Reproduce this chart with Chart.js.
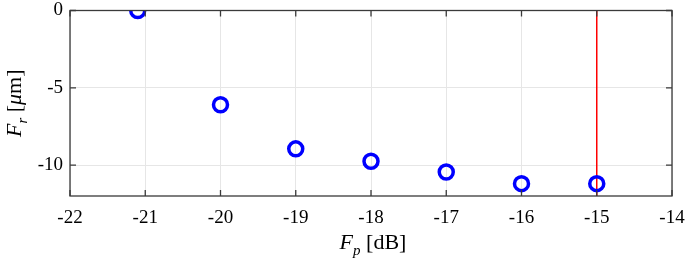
<!DOCTYPE html>
<html>
<head>
<meta charset="utf-8">
<script src="https://cdn.jsdelivr.net/npm/chart.js@4"></script>
<style>
  html, body { margin: 0; padding: 0; background: #fff; }
  #wrap { width: 685px; height: 264px; }
</style>
</head>
<body>
<div id="wrap"><canvas id="chart" width="685" height="264"></canvas></div>
<script>
// values
const fpValues = [-21.1, -20, -19, -18, -17, -16, -15];
const frValues = [0, -6.1, -8.95, -9.75, -10.45, -11.2, -11.2];
const markerX = -15;
const xTicks = [-22, -21, -20, -19, -18, -17, -16, -15, -14];
const yTicks = [-10, -5, 0];

const serif = '"Liberation Serif", "Times New Roman", serif';

// box and inward ticks, MATLAB style, plus the axis titles with subscripts
const axesBox = {
  id: 'axesBox',
  afterDraw(chart) {
    const { ctx, chartArea: a, scales: { x, y } } = chart;
    ctx.save();
    ctx.strokeStyle = '#3a3a3a';
    ctx.lineWidth = 1.3;
    ctx.strokeRect(a.left, a.top, a.right - a.left, a.bottom - a.top);
    ctx.beginPath();
    const t = 6;
    xTicks.forEach(v => {
      const px = x.getPixelForValue(v);
      ctx.moveTo(px, a.bottom); ctx.lineTo(px, a.bottom - t);
      ctx.moveTo(px, a.top); ctx.lineTo(px, a.top + t);
    });
    yTicks.forEach(v => {
      const py = y.getPixelForValue(v);
      ctx.moveTo(a.left, py); ctx.lineTo(a.left + t, py);
      ctx.moveTo(a.right, py); ctx.lineTo(a.right - t, py);
    });
    ctx.stroke();

    // x title: F_p [dB]
    ctx.fillStyle = '#000';
    ctx.textBaseline = 'alphabetic';
    const xt = [['F', 'italic 22px ' + serif, 0], ['p', 'italic 15px ' + serif, 6], [' [dB]', '22px ' + serif, 0]];
    drawParts(ctx, xt, (a.left + a.right) / 2 + 2, 249);

    // y title: F_r [μm], rotated
    ctx.save();
    ctx.translate(21, (a.top + a.bottom) / 2);
    ctx.rotate(-Math.PI / 2);
    const yt = [['F', 'italic 22px ' + serif, 0], ['r', 'italic 15px ' + serif, 6], [' [', '22px ' + serif, 0], ['\u03bc', 'italic 22px ' + serif, 0], ['m]', '22px ' + serif, 0]];
    drawParts(ctx, yt, 0, 0);
    ctx.restore();
    ctx.restore();
  }
};

function drawParts(ctx, parts, cx, baseY) {
  let total = 0;
  parts.forEach(p => { ctx.font = p[1]; total += ctx.measureText(p[0]).width; });
  let px = cx - total / 2;
  parts.forEach(p => {
    ctx.font = p[1];
    ctx.textAlign = 'left';
    ctx.fillText(p[0], px, baseY + p[2]);
    px += ctx.measureText(p[0]).width;
  });
}

const ctx = document.getElementById('chart').getContext('2d');
new Chart(ctx, {
  type: 'scatter',
  data: {
    datasets: [
      {
        label: 'Fr',
        data: fpValues.map((v, i) => ({ x: v, y: frValues[i] })),
        borderColor: '#0000ff',
        backgroundColor: 'rgba(0,0,0,0)',
        borderWidth: 3.5,
        pointRadius: 7,
        order: 0,
      },
      {
        type: 'line',
        label: 'limit',
        data: [{ x: markerX, y: -12 }, { x: markerX, y: 0 }],
        borderColor: '#ff0000',
        borderWidth: 1.5,
        pointRadius: 0,
        fill: false,
        order: 1,
      },
    ],
  },
  options: {
    responsive: false,
    animation: false,
    layout: { padding: { top: 9, right: 13, left: 0, bottom: 0 } },
    plugins: { legend: { display: false }, tooltip: { enabled: false } },
    scales: {
      x: {
        type: 'linear',
        min: -22,
        max: -14,
        afterBuildTicks: (s) => { s.ticks = xTicks.map(v => ({ value: v })); },
        afterFit: (s) => { s.height = 68; s.paddingLeft = 0; s.paddingRight = 0; },
        grid: { color: '#e6e6e6', drawTicks: false },
        border: { display: false },
        ticks: { color: '#000', font: { family: serif, size: 19 }, padding: 11, maxRotation: 0 },
      },
      y: {
        min: -12,
        max: 0,
        afterBuildTicks: (s) => { s.ticks = yTicks.map(v => ({ value: v })); },
        afterFit: (s) => { s.width = 70; s.paddingTop = 0; s.paddingBottom = 0; },
        grid: { color: '#e6e6e6', drawTicks: false },
        border: { display: false },
        ticks: { color: '#000', font: { family: serif, size: 19 }, padding: 7 },
      },
    },
  },
  plugins: [axesBox],
});
</script>
</body>
</html>
